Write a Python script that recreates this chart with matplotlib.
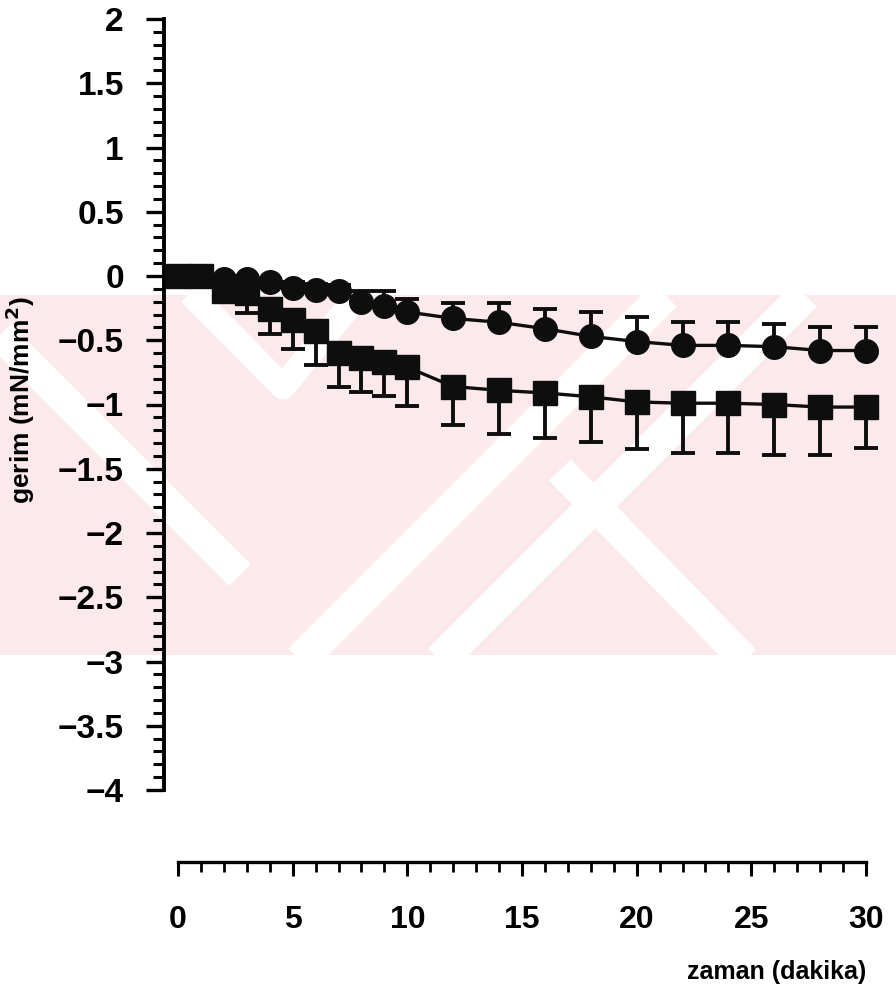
import numpy as np
import matplotlib
matplotlib.use('Agg')
import matplotlib.pyplot as plt
from matplotlib.patches import Rectangle
from matplotlib.ticker import MultipleLocator

plt.rcParams['font.family'] = ['Liberation Sans', 'DejaVu Sans']
plt.rcParams['font.weight'] = 'bold'

# time points (min)
zaman = [0, 1, 2, 3, 4, 5, 6, 7, 8, 9, 10, 12, 14, 16, 18, 20, 22, 24, 26, 28, 30]

# circle series: mean and upper error
daire = [0, 0, -0.02, -0.02, -0.05, -0.09, -0.11, -0.12, -0.20, -0.23, -0.28,
         -0.33, -0.36, -0.41, -0.47, -0.51, -0.54, -0.54, -0.55, -0.58, -0.58]
daire_hata = [0.01, 0.01, 0.02, 0.02, 0.03, 0.04, 0.05, 0.05, 0.08, 0.11, 0.10,
              0.12, 0.15, 0.15, 0.19, 0.19, 0.18, 0.18, 0.18, 0.18, 0.18]

# square series: mean and lower error
kare = [0, 0, -0.12, -0.13, -0.26, -0.34, -0.43, -0.60, -0.64, -0.67, -0.71,
        -0.86, -0.89, -0.91, -0.94, -0.98, -0.99, -0.99, -1.00, -1.02, -1.02]
kare_hata = [0.01, 0.01, 0.06, 0.16, 0.19, 0.23, 0.26, 0.26, 0.26, 0.26, 0.30,
             0.30, 0.34, 0.35, 0.35, 0.37, 0.385, 0.385, 0.39, 0.37, 0.32]

W, H = 896, 990
fig = plt.figure(figsize=(W / 100, H / 100), dpi=100)

# background watermark (light pink band with white stripes)
bg = fig.add_axes([0, 0, 1, 1], zorder=0)
bg.set_xlim(0, W)
bg.set_ylim(H, 0)
bg.set_axis_off()
band = Rectangle((0, 295), W, 360, facecolor='#fce9ec', edgecolor='none')
bg.add_patch(band)
stripes = [
    ([190, 283, 360], [293, 387, 293], 18),
    ([0, 240], [335, 575], 22),
    ([300, 665], [660, 295], 24),
    ([440, 805], [660, 295], 24),
    ([560, 745], [470, 660], 22),
]
for xs, ys, lw in stripes:
    ln, = bg.plot(xs, ys, color='white', lw=lw, solid_capstyle='butt')
    ln.set_clip_path(band)

ax = fig.add_axes([178 / W, 200 / H, 688 / W, 771 / H], zorder=1)
ax.set_facecolor('none')

renk = '#0e0e0e'
ax.errorbar(zaman, kare, yerr=[kare_hata, np.zeros(len(kare))], fmt='-s',
            color=renk, ms=17, lw=2.4, elinewidth=2.8, capsize=8.5,
            capthick=2.8, clip_on=False, zorder=3)
ax.errorbar(zaman, daire, yerr=[np.zeros(len(daire)), daire_hata], fmt='-o',
            color=renk, ms=17, lw=2.4, elinewidth=2.8, capsize=8.5,
            capthick=2.8, clip_on=False, zorder=4)

ax.set_xlim(0, 30)
ax.set_ylim(-4, 2)

for s in ['top', 'right']:
    ax.spines[s].set_visible(False)
ax.spines['left'].set_position(('outward', 10))
ax.spines['bottom'].set_position(('outward', 52))
ax.spines['left'].set_linewidth(2.8)
ax.spines['bottom'].set_linewidth(2.4)

ax.yaxis.set_minor_locator(MultipleLocator(0.1))
ax.xaxis.set_major_locator(MultipleLocator(5))
ax.xaxis.set_minor_locator(MultipleLocator(1))
ax.set_yticks(np.arange(-4, 2.01, 0.5))
ax.set_yticklabels(['−4', '−3.5', '−3', '−2.5', '−2', '−1.5', '−1', '−0.5',
                    '0', '0.5', '1', '1.5', '2'])

ax.tick_params(axis='y', which='major', length=13, width=2.4, labelsize=24, pad=16)
ax.tick_params(axis='y', which='minor', length=8, width=2.2)
ax.tick_params(axis='x', which='major', length=10, width=2.2, labelsize=23, pad=21)
ax.tick_params(axis='x', which='minor', length=7, width=2.0)
for t in ax.get_xticklabels() + ax.get_yticklabels():
    t.set_fontweight('bold')

ax.set_xlabel('zaman (dakika)', fontsize=18, fontweight='bold', loc='right', labelpad=18)
ax.set_ylabel('gerim (mN/mm$^\\mathbf{2}$)', fontsize=19, fontweight='bold')
ax.yaxis.set_label_coords(-0.205, 0.506)

fig.savefig('out.png', dpi=100)
